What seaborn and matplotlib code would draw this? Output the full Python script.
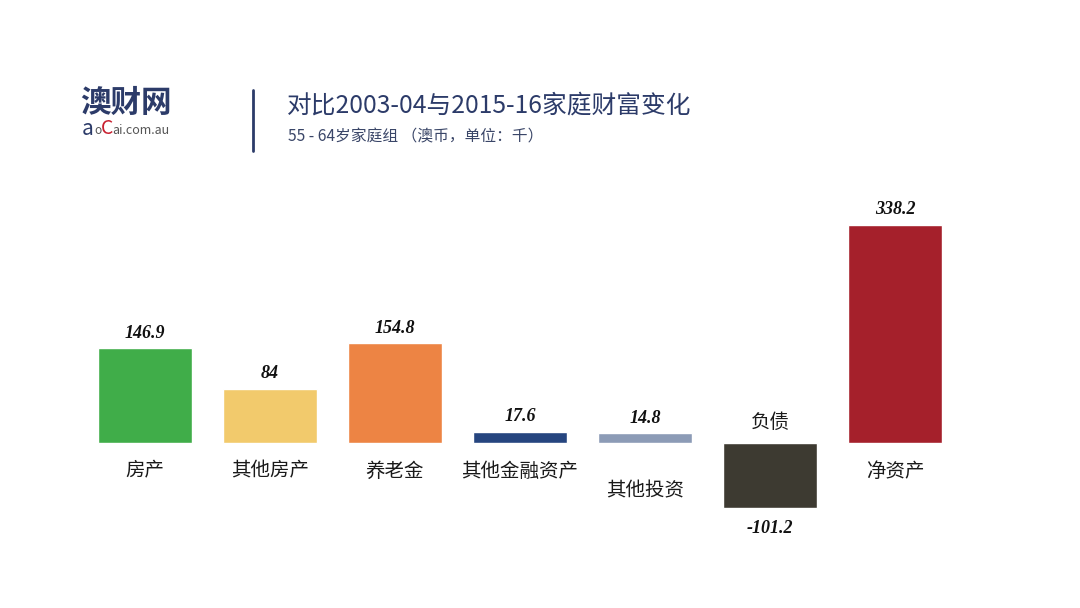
import matplotlib
matplotlib.use("Agg")
import matplotlib.pyplot as plt
import seaborn as sns
import pandas as pd

categories = ["房产", "其他房产", "养老金", "其他金融资产", "其他投资", "负债", "净资产"]
values = [146.9, 84, 154.8, 17.6, 14.8, -101.2, 338.2]
value_labels = ["146.9", "84", "154.8", "17.6", "14.8", "-101.2", "338.2"]
colors = ["#40ad49", "#f2ca6c", "#ed8444", "#26457f", "#8c9bb6", "#3d3a31", "#a5202b"]

title = "对比2003-04与2015-16家庭财富变化"
subtitle = "55 - 64岁家庭组 （澳币，单位：千）"

sns.set_theme(style="white")
plt.rcParams["font.family"] = ["Noto Sans CJK SC", "DejaVu Sans"]

df = pd.DataFrame({"cat": categories, "val": values})

W, H = 1080, 608
fig = plt.figure(figsize=(W / 100, H / 100), dpi=100)
fig.patch.set_facecolor("white")

# axes placed so category centers land at 145 + 125*i px, baseline at 443 px
scale = 0.645  # px per unit
ymin, ymax = -150, 380
left = 82.5
bottom = (H - 443) + ymin * scale
height = (ymax - ymin) * scale
ax = fig.add_axes([left / W, bottom / H, 875 / W, height / H])

sns.barplot(data=df, x="cat", y="val", hue="cat", palette=colors,
            legend=False, width=0.75, saturation=1, ax=ax)
ax.set_xlim(-0.5, 6.5)
ax.set_ylim(ymin, ymax)
ax.axis("off")

num_font = dict(family="Liberation Serif", style="italic", weight="bold",
                size=13, color="#111111")
for i, (v, lab) in enumerate(zip(values, value_labels)):
    if v >= 0:
        ax.annotate(lab, xy=(i, v), xytext=(0, 15 * 0.72), textcoords="offset points",
                    ha="center", va="center", **num_font)
    else:
        ax.annotate(lab, xy=(i, v), xytext=(0, -20 * 0.72), textcoords="offset points",
                    ha="center", va="center", **num_font)

# category labels
offsets = [-28, -28, -28, -28, -48, 21, -28]
for i, (c, off) in enumerate(zip(categories, offsets)):
    ax.annotate(c, xy=(i, 0), xytext=(0, off * 0.72), textcoords="offset points",
                ha="center", va="center", fontsize=14, color="#1a1a1a")

# header
navy = "#2c3b69"
fig.text(287 / W, 1 - 106 / H, title, fontsize=17.8, color=navy, va="center", ha="left")
fig.text(288 / W, 1 - 137 / H, subtitle, fontsize=11.3, color="#3a4668", va="center", ha="left")
fig.add_artist(plt.Line2D([253 / W, 253 / W], [1 - 90 / H, 1 - 151 / H],
                          color=navy, lw=2))

# logo
fig.text(80 / W, 1 - 103 / H, "澳财网", fontsize=22, weight="bold", color=navy,
         va="center", ha="left")
fig.text(82 / W, 1 - 129 / H, "a", fontsize=15, color=navy, va="center", ha="left")
fig.text(94 / W, 1 - 130 / H, "o", fontsize=8.5, color="#555555", va="center", ha="left")
fig.text(101 / W, 1 - 129 / H, "C", fontsize=14, color="#c8202f", va="center", ha="left")
fig.text(112 / W, 1 - 130 / H, "ai.com.au", fontsize=9, color="#555555", va="center", ha="left")

fig.savefig("out.png", dpi=100, facecolor="white")
